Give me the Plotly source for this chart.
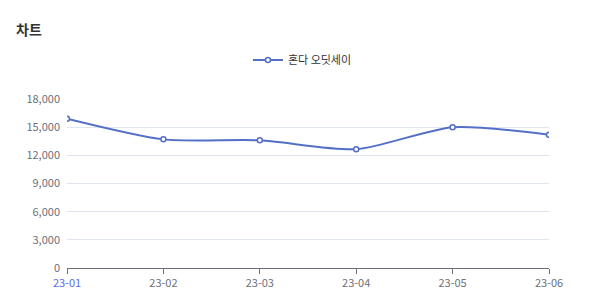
import plotly.graph_objects as go

months = ["23-01", "23-02", "23-03", "23-04", "23-05", "23-06"]
values = [15900, 13700, 13600, 12650, 15000, 14200]
series_name = "혼다 오딧세이"
title_text = "차트"
y_ticks = [0, 3000, 6000, 9000, 12000, 15000, 18000]

W, H = 593, 306
L, R, T, B = 67, 44, 99, 38
FONT = "Noto Sans CJK KR, Noto Sans, sans-serif"
LINE = "#5470c6"

ticktext = [f'<span style="color:#5a6cf0">{months[0]}</span>'] + months[1:]

fig = go.Figure()
fig.add_trace(go.Scatter(
    x=months, y=values, name=series_name, mode="lines+markers",
    line=dict(color=LINE, width=2, shape="spline", smoothing=0.7),
    marker=dict(symbol="circle", size=5, color="white", line=dict(color=LINE, width=1.5)),
))

fig.update_layout(
    width=W, height=H,
    margin=dict(l=L, r=R, t=T, b=B),
    paper_bgcolor="white", plot_bgcolor="white",
    font=dict(family=FONT, size=11, color="#6E7079"),
    title=dict(text=f"<b>{title_text}</b>", x=16 / W, xref="container", xanchor="left",
               y=1 - 30 / H, yref="container", yanchor="middle",
               font=dict(family=FONT, size=14, color="#333")),
    showlegend=True,
    legend=dict(orientation="h", x=0.51, xref="container", xanchor="center",
                y=1 - 60 / H, yref="container", yanchor="middle",
                font=dict(size=11, color="#333"), itemwidth=30,
                bgcolor="rgba(0,0,0,0)"),
    xaxis=dict(type="category", range=[0, len(months) - 1],
               tickvals=months, ticktext=ticktext,
               showgrid=False, showline=True, linecolor="#6E7079", linewidth=1,
               ticks="outside", ticklen=5, tickcolor="#6E7079",
               tickfont=dict(size=11, color="#6E7079"), zeroline=False, fixedrange=True),
    yaxis=dict(range=[0, 18000], tickvals=y_ticks, tickformat=",",
               showgrid=True, gridcolor="#E0E6F1", gridwidth=1,
               showline=False, zeroline=False, ticks="",
               tickfont=dict(size=11, color="#6E7079"), ticklabelstandoff=6, fixedrange=True),
)

fig.write_html("out.html")
